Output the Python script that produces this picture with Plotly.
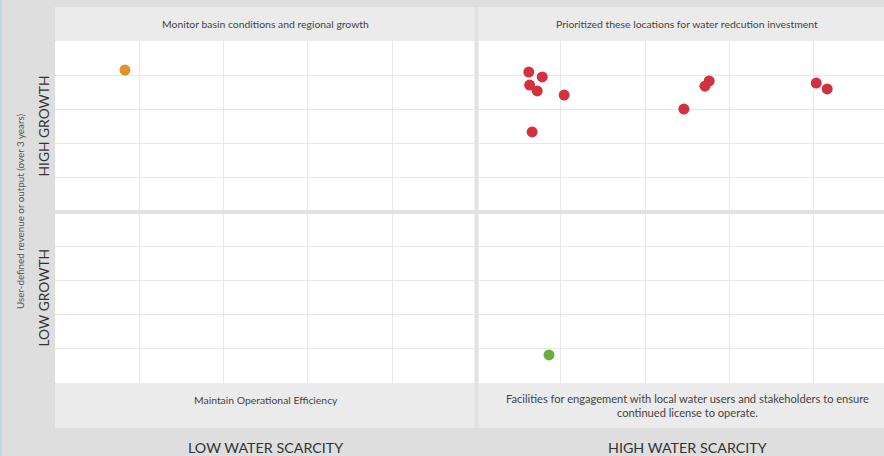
import plotly.graph_objects as go

# ---- data ----
orange_x = [0.83]
orange_y = [9.15]
red_x = [5.62, 5.78, 5.63, 5.72, 6.04, 5.66, 7.46, 7.76, 7.71, 9.03, 9.16]
red_y = [9.09, 8.95, 8.71, 8.54, 8.42, 7.34, 8.01, 8.83, 8.68, 8.77, 8.60]
green_x = [5.86]
green_y = [0.82]

header_labels = ["Monitor basin conditions and regional growth",
                 "Prioritized these locations for water redcution investment"]
footer_labels = ["Maintain Operational Efficiency",
                 "Facilities for engagement with local water users and stakeholders to ensure<br>continued license to operate."]
x_labels = ["LOW WATER SCARCITY", "HIGH WATER SCARCITY"]
y_labels = ["HIGH GROWTH", "LOW GROWTH"]
y_title = "User-defined revenue or output (over 3 years)"

FONT = "Lato, 'Open Sans', sans-serif"
W, H = 884, 456
ML, MT, MB = 55, 41, 73
XMAX = (W - ML) / 84.3

fig = go.Figure()
msize = 11
fig.add_trace(go.Scatter(x=orange_x, y=orange_y, mode="markers",
                         marker=dict(size=msize, color="#de9526"), showlegend=False))
fig.add_trace(go.Scatter(x=red_x, y=red_y, mode="markers",
                         marker=dict(size=msize, color="#d2313f"), showlegend=False))
fig.add_trace(go.Scatter(x=green_x, y=green_y, mode="markers",
                         marker=dict(size=msize, color="#6aaf3d"), showlegend=False))

shapes = []
ph = H - MT - MB  # plot height in px
def py(px):  # pixel y -> paper y
    return (H - MB - px) / ph

# light blue left strip
shapes.append(dict(type="rect", xref="paper", yref="paper", x0=-ML / (W - ML), x1=-(ML - 2) / (W - ML),
                   y0=py(H), y1=py(0), fillcolor="#bcd9e6", line_width=0, layer="below"))
# header and footer bands
shapes.append(dict(type="rect", xref="paper", yref="paper", x0=0, x1=1, y0=1, y1=py(7),
                   fillcolor="#ebebeb", line_width=0, layer="below"))
shapes.append(dict(type="rect", xref="paper", yref="paper", x0=0, x1=1, y0=py(428), y1=0,
                   fillcolor="#ebebeb", line_width=0, layer="below"))
# dividers
shapes.append(dict(type="line", xref="x", yref="paper", x0=5, x1=5, y0=py(428), y1=py(7),
                   line=dict(color="#e2e2e2", width=4), layer="above"))
shapes.append(dict(type="line", xref="paper", yref="y", x0=0, x1=1, y0=5, y1=5,
                   line=dict(color="#e2e2e2", width=4), layer="above"))

ann = []
def add(x, xref, y, yref, text, size, color, angle=0):
    ann.append(dict(x=x, xref=xref, y=y, yref=yref, text=text, showarrow=False,
                    xanchor="center", yanchor="middle", textangle=angle,
                    font=dict(family=FONT, size=size, color=color)))

for i, t in enumerate(header_labels):
    add(2.5 + 5 * i, "x", py(24), "paper", t, 10.4, "#444444")
add(2.5, "x", py(400), "paper", footer_labels[0], 10.4, "#444444")
add(7.5, "x", py(405), "paper", footer_labels[1], 11.1, "#444444")
for i, t in enumerate(x_labels):
    add(2.5 + 5 * i, "x", py(447), "paper", t, 14.3, "#333333")
for i, t in enumerate(y_labels):
    add(-12 / (W - ML), "paper", 7.5 - 5 * i, "y", t, 13.8, "#333333", -90)
add(-35 / (W - ML), "paper", 5, "y", y_title, 9.8, "#555555", -90)

fig.update_layout(
    width=W, height=H,
    margin=dict(l=ML, r=0, t=MT, b=MB, pad=0),
    paper_bgcolor="#dedede", plot_bgcolor="#ffffff",
    shapes=shapes, annotations=ann,
    xaxis=dict(range=[0, XMAX], dtick=1, showgrid=True, gridcolor="#e8e8e8", gridwidth=1,
               showticklabels=False, zeroline=False, ticks="", fixedrange=True),
    yaxis=dict(range=[0, 10], dtick=1, showgrid=True, gridcolor="#e8e8e8", gridwidth=1,
               showticklabels=False, zeroline=False, ticks="", fixedrange=True),
)

fig.write_html("out.html", config={"displayModeBar": False},
               post_script="document.body.style.margin='0';document.body.style.overflow='hidden';")
